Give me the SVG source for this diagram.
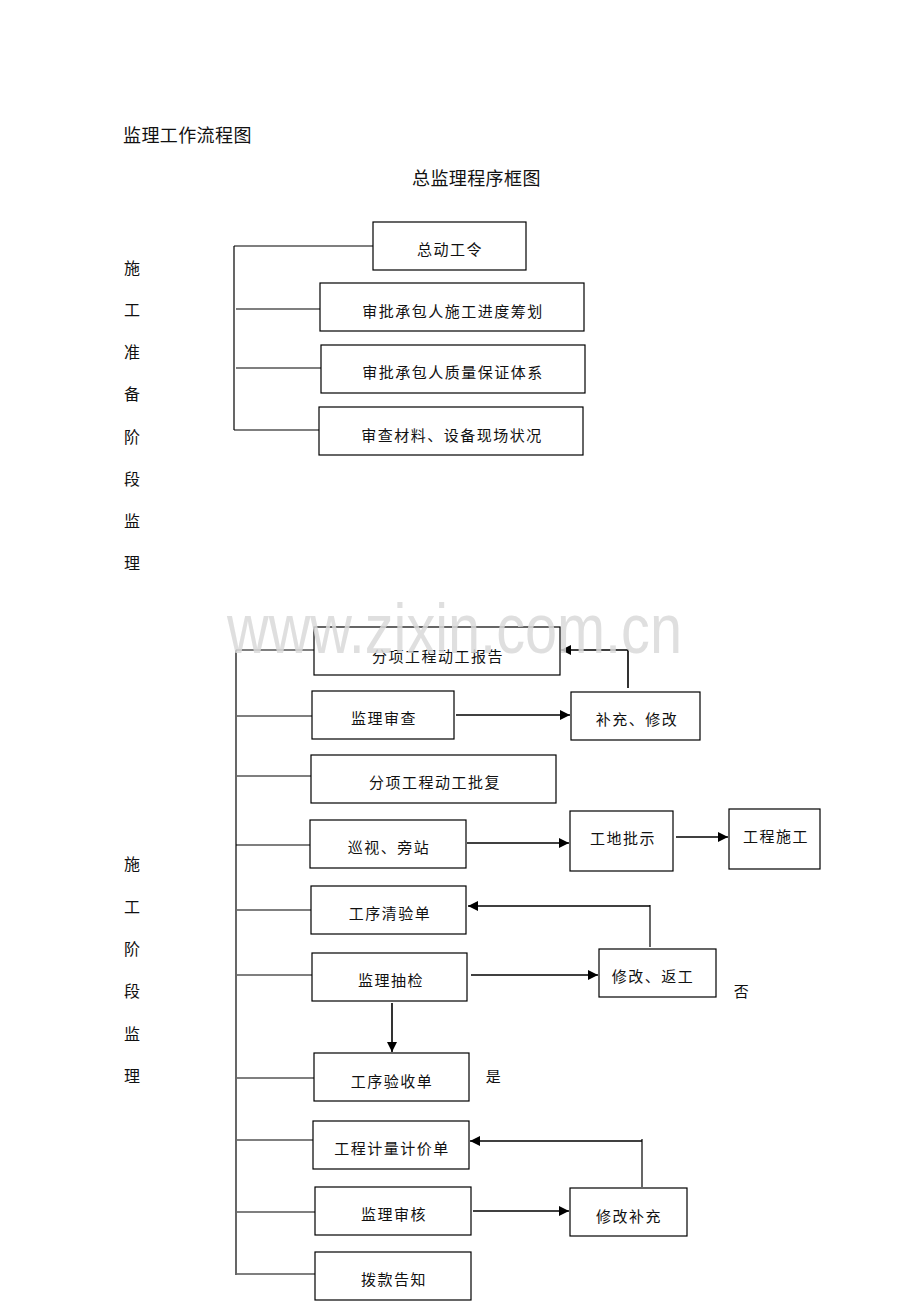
<svg xmlns="http://www.w3.org/2000/svg" width="920" height="1302" viewBox="0 0 920 1302">
<style>
text{font-family:"Liberation Sans","Noto Sans CJK SC",sans-serif;fill:#111}
.t{font-size:15px;text-anchor:middle;letter-spacing:1.5px}
.h{font-size:18px;letter-spacing:0.4px}
.v{font-size:16px;text-anchor:middle}
.n rect{fill:#fff;stroke:#000;stroke-width:1.2}
.c line,.c polyline{stroke:#000;stroke-width:1.2;fill:none}
.c .a{stroke-width:1.6}
.wm{font-family:"Liberation Sans",Arial,sans-serif;font-size:70px;fill:#d9d9d9;fill-opacity:0.85}
</style>
<defs>
<marker id="ar" viewBox="0 0 10 10" refX="10" refY="5" markerWidth="10" markerHeight="10" markerUnits="userSpaceOnUse" orient="auto">
<path d="M0,0 L10,5 L0,10 z" fill="#000"/>
</marker>
</defs>
<rect width="920" height="1302" fill="#fff"/>
<text class="h" x="123" y="142">监理工作流程图</text>
<text class="h" x="412" y="185">总监理程序框图</text>
<g id="label1">
<text class="v" x="132" y="274">施</text>
<text class="v" x="132" y="316">工</text>
<text class="v" x="132" y="358">准</text>
<text class="v" x="132" y="400">备</text>
<text class="v" x="132" y="443">阶</text>
<text class="v" x="132" y="485">段</text>
<text class="v" x="132" y="527">监</text>
<text class="v" x="132" y="569">理</text>
</g>
<g id="label2">
<text class="v" x="132" y="870">施</text>
<text class="v" x="132" y="913">工</text>
<text class="v" x="132" y="955">阶</text>
<text class="v" x="132" y="997">段</text>
<text class="v" x="132" y="1040">监</text>
<text class="v" x="132" y="1082">理</text>
</g>
<g class="c" id="connectors">
<line x1="234" y1="246" x2="234" y2="430"/>
<line x1="234" y1="246" x2="373" y2="246"/>
<line x1="236" y1="309" x2="320" y2="309"/>
<line x1="236" y1="368" x2="321" y2="368"/>
<line x1="234" y1="430" x2="319" y2="430"/>
<line x1="236" y1="650" x2="236" y2="1275"/>
<line x1="236" y1="650" x2="314" y2="650"/>
<line x1="237" y1="716" x2="312" y2="716"/>
<line x1="237" y1="776" x2="311" y2="776"/>
<line x1="236" y1="845" x2="310" y2="845"/>
<line x1="237" y1="910" x2="311" y2="910"/>
<line x1="237" y1="975" x2="312" y2="975"/>
<line x1="237" y1="1078" x2="314" y2="1078"/>
<line x1="237" y1="1140" x2="313" y2="1140"/>
<line x1="237" y1="1212" x2="315" y2="1212"/>
<line x1="237" y1="1274" x2="315" y2="1274"/>
<line class="a" x1="456" y1="715" x2="570" y2="715" marker-end="url(#ar)"/>
<polyline class="a" points="628,688 628,650 561,650" marker-end="url(#ar)"/>
<line class="a" x1="467" y1="843" x2="569" y2="843" marker-end="url(#ar)"/>
<line class="a" x1="676" y1="837" x2="728" y2="837" marker-end="url(#ar)"/>
<polyline points="650,947 650,905"/>
<line class="a" x1="650" y1="906" x2="468" y2="906" marker-end="url(#ar)"/>
<line class="a" x1="471" y1="975" x2="598" y2="975" marker-end="url(#ar)"/>
<line class="a" x1="392" y1="1003" x2="392" y2="1052" marker-end="url(#ar)"/>
<polyline points="642,1187 642,1139"/>
<line class="a" x1="642" y1="1141" x2="470" y2="1141" marker-end="url(#ar)"/>
<line class="a" x1="473" y1="1211" x2="569" y2="1211" marker-end="url(#ar)"/>
</g>
<g class="n" id="n1"><rect x="373" y="222" width="153" height="48"/><text class="t" x="450" y="255">总动工令</text></g>
<g class="n" id="n2"><rect x="320" y="283" width="264" height="48"/><text class="t" x="453" y="317">审批承包人施工进度筹划</text></g>
<g class="n" id="n3"><rect x="321" y="345" width="264" height="48"/><text class="t" x="453" y="378">审批承包人质量保证体系</text></g>
<g class="n" id="n4"><rect x="319" y="407" width="264" height="48"/><text class="t" x="452" y="441">审查材料、设备现场状况</text></g>
<g class="n" id="b1"><rect x="314" y="627" width="246" height="48"/><text class="t" x="438" y="662">分项工程动工报告</text></g>
<g class="n" id="b2"><rect x="312" y="691" width="142" height="48"/><text class="t" x="384" y="724">监理审查</text></g>
<g class="n" id="b2r"><rect x="571" y="692" width="129" height="48"/><text class="t" x="637" y="725">补充、修改</text></g>
<g class="n" id="b3"><rect x="311" y="755" width="245" height="48"/><text class="t" x="435" y="788">分项工程动工批复</text></g>
<g class="n" id="b4"><rect x="310" y="820" width="156" height="48"/><text class="t" x="389" y="853">巡视、旁站</text></g>
<g class="n" id="b4r"><rect x="570" y="811" width="103" height="60"/><text class="t" x="623" y="844">工地批示</text></g>
<g class="n" id="b4rr"><rect x="729" y="809" width="91" height="60"/><text class="t" x="776" y="842">工程施工</text></g>
<g class="n" id="b5"><rect x="311" y="886" width="155" height="48"/><text class="t" x="390" y="919">工序清验单</text></g>
<g class="n" id="b6"><rect x="312" y="953" width="155" height="48"/><text class="t" x="391" y="986">监理抽检</text></g>
<g class="n" id="b6r"><rect x="599" y="949" width="117" height="48"/><text class="t" x="653" y="982">修改、返工</text></g>
<text class="t" x="742" y="997">否</text>
<g class="n" id="b7"><rect x="314" y="1053" width="155" height="48"/><text class="t" x="392" y="1087">工序验收单</text></g>
<text class="t" x="494" y="1082">是</text>
<g class="n" id="b8"><rect x="313" y="1121" width="156" height="48"/><text class="t" x="392" y="1154">工程计量计价单</text></g>
<g class="n" id="b9"><rect x="315" y="1187" width="156" height="48"/><text class="t" x="394" y="1220">监理审核</text></g>
<g class="n" id="b9r"><rect x="570" y="1188" width="117" height="48"/><text class="t" x="629" y="1222">修改补充</text></g>
<g class="n" id="b10"><rect x="315" y="1252" width="156" height="48"/><text class="t" x="394" y="1285">拨款告知</text></g>
<text class="wm" x="227" y="653" textLength="455" lengthAdjust="spacingAndGlyphs">www.zixin.com.cn</text>
</svg>
